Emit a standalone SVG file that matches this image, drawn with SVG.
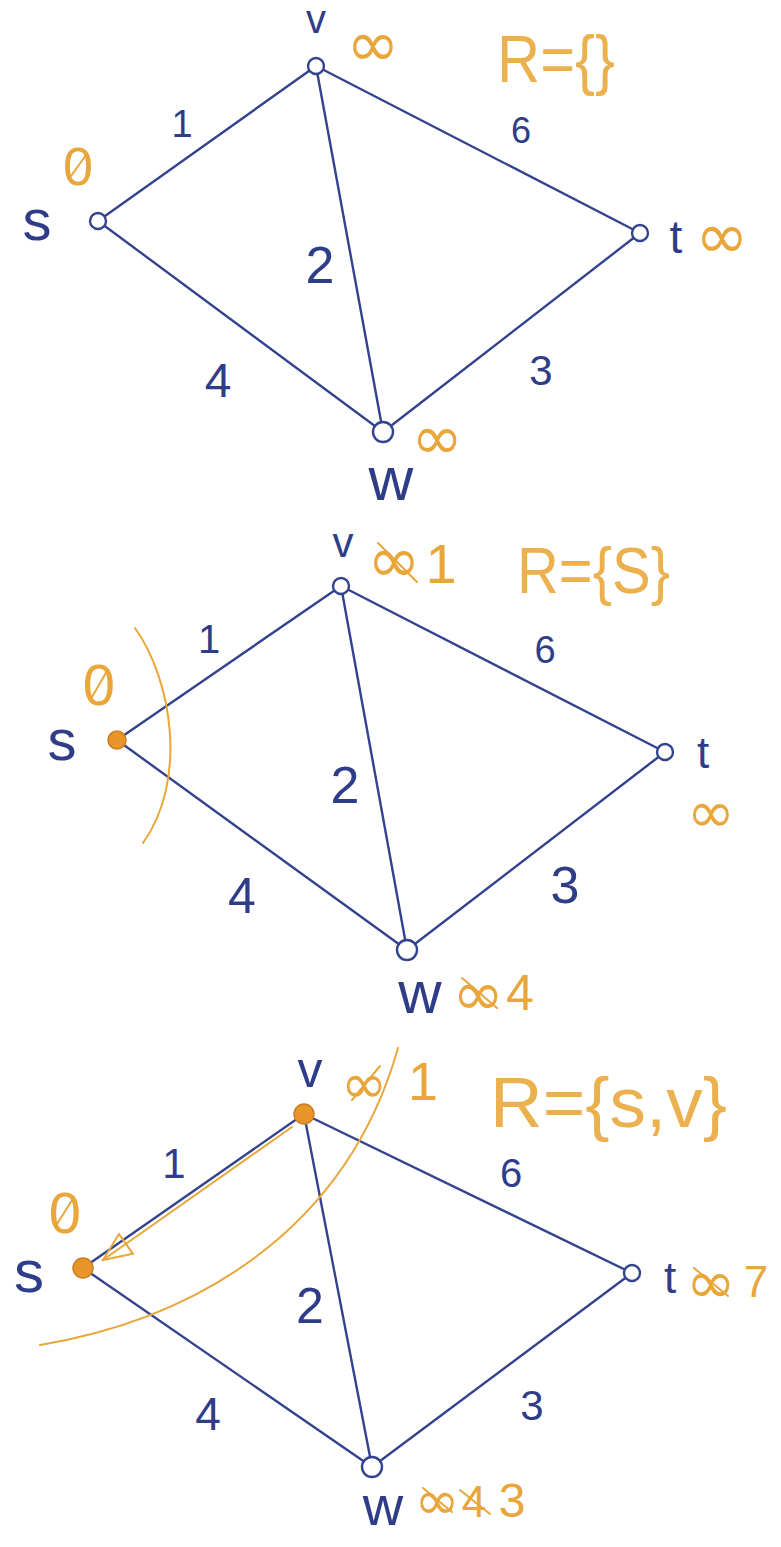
<svg xmlns="http://www.w3.org/2000/svg" width="781" height="1547" viewBox="0 0 781 1547">
<style>
.e{stroke:#34438d;stroke-width:2.4;fill:none;stroke-linecap:round}
.n{fill:#fff;stroke:#34438d;stroke-width:2.4}
.nf{fill:#e8952a;stroke:#c9801f;stroke-width:1.5}
.b{fill:#2f3d88;font-family:"Liberation Sans",Arial,sans-serif;text-anchor:middle}
.o{fill:#e9a63a;font-family:"Liberation Sans",Arial,sans-serif;text-anchor:middle}
.i{fill:#e9a63a;font-family:"DejaVu Sans",sans-serif;text-anchor:middle;dominant-baseline:central}
.r{fill:#ebb14f;font-family:"Liberation Sans",Arial,sans-serif}
.os{stroke:#e9a63a;stroke-width:2;fill:none;stroke-linecap:round}
</style>
<defs>
<marker id="arr" viewBox="0 0 32 32" refX="30" refY="16" markerWidth="32" markerHeight="32" markerUnits="userSpaceOnUse" orient="auto">
<path d="M2,4 L30,16 L2,28 Z" fill="none" stroke="#e9a63a" stroke-width="2"/>
</marker>
</defs>
<rect width="781" height="1547" fill="#fff"/>

<g id="connectors">
<!-- panel 1 -->
<line class="e" x1="98" y1="221" x2="316" y2="66"/>
<line class="e" x1="98" y1="221" x2="383" y2="432"/>
<line class="e" x1="316" y1="66" x2="383" y2="432"/>
<line class="e" x1="316" y1="66" x2="640" y2="233"/>
<line class="e" x1="383" y1="432" x2="640" y2="233"/>
<text class="b" x="182" y="137" font-size="38">1</text>
<text class="b" x="521" y="143" font-size="36">6</text>
<text class="b" x="320" y="283" font-size="52">2</text>
<text class="b" x="218" y="397" font-size="48">4</text>
<text class="b" x="541" y="385" font-size="42">3</text>
<!-- panel 2 -->
<line class="e" x1="117" y1="740" x2="341" y2="586"/>
<line class="e" x1="117" y1="740" x2="407" y2="950"/>
<line class="e" x1="341" y1="586" x2="407" y2="950"/>
<line class="e" x1="341" y1="586" x2="665" y2="752"/>
<line class="e" x1="407" y1="950" x2="665" y2="752"/>
<text class="b" x="209" y="653" font-size="40">1</text>
<text class="b" x="545" y="663" font-size="38">6</text>
<text class="b" x="345" y="803" font-size="52">2</text>
<text class="b" x="242" y="913" font-size="50">4</text>
<text class="b" x="565" y="903" font-size="52">3</text>
<!-- panel 3 -->
<line class="e" x1="83" y1="1268" x2="304" y2="1114"/>
<line class="e" x1="83" y1="1268" x2="372" y2="1467"/>
<line class="e" x1="304" y1="1114" x2="372" y2="1467"/>
<line class="e" x1="304" y1="1114" x2="632" y2="1273"/>
<line class="e" x1="372" y1="1467" x2="632" y2="1273"/>
<text class="b" x="174" y="1178" font-size="42">1</text>
<text class="b" x="511" y="1187" font-size="40">6</text>
<text class="b" x="310" y="1323" font-size="50">2</text>
<text class="b" x="208" y="1430" font-size="46">4</text>
<text class="b" x="532" y="1420" font-size="42">3</text>
<line class="os" x1="292" y1="1127" x2="103" y2="1260" marker-end="url(#arr)"/>
</g>

<g id="cuts">
<path class="os" d="M135,628 C172,680 188,780 143,843"/>
<path class="os" d="M40,1345 C190,1320 345,1235 398,1048"/>
</g>

<!-- panel 1 nodes -->
<g id="p1-s">
<circle class="n" cx="98" cy="221" r="8"/>
<text class="b" x="37" y="240" font-size="58">s</text>
<text class="o" x="78" y="185" font-size="54">0</text>
<line class="os" x1="71" y1="176" x2="86" y2="155"/>
</g>
<g id="p1-v">
<circle class="n" cx="316" cy="66" r="8"/>
<text class="b" x="316" y="33" font-size="40">v</text>
<text class="i" x="373" y="44" font-size="64">∞</text>
</g>
<g id="p1-t">
<circle class="n" cx="640" cy="233" r="8"/>
<text class="b" x="676" y="253" font-size="46">t</text>
<text class="i" x="722" y="236" font-size="64">∞</text>
</g>
<g id="p1-w">
<circle class="n" cx="383" cy="432" r="10"/>
<text class="i" x="437" y="437" font-size="62">∞</text>
<text class="b" x="391" y="500" font-size="62">w</text>
</g>
<g id="p1-R">
<text class="r" x="497" y="82" font-size="66" textLength="118" lengthAdjust="spacingAndGlyphs">R={}</text>
</g>

<!-- panel 2 nodes -->
<g id="p2-s">
<circle class="nf" cx="117" cy="740" r="9"/>
<text class="b" x="62" y="760" font-size="58">s</text>
<text class="o" x="99" y="705" font-size="58">0</text>
<line class="os" x1="92" y1="697" x2="107" y2="671"/>
</g>
<g id="p2-v">
<circle class="n" cx="341" cy="586" r="8"/>
<text class="b" x="343" y="557" font-size="42">v</text>
<text class="i" x="394" y="560" font-size="64">∞</text>
<line class="os" x1="378" y1="543" x2="417" y2="582"/>
<text class="o" x="441" y="583" font-size="56">1</text>
</g>
<g id="p2-t">
<circle class="n" cx="665" cy="752" r="8"/>
<text class="b" x="703" y="768" font-size="44">t</text>
<text class="i" x="711" y="812" font-size="58">∞</text>
</g>
<g id="p2-w">
<circle class="n" cx="407" cy="950" r="10"/>
<text class="b" x="420" y="1013" font-size="60">w</text>
<text class="i" x="478" y="993" font-size="62">∞</text>
<line class="os" x1="462" y1="978" x2="497" y2="1008"/>
<text class="o" x="520" y="1010" font-size="50">4</text>
</g>
<g id="p2-R">
<text class="r" x="517" y="593" font-size="64" textLength="153" lengthAdjust="spacingAndGlyphs">R={S}</text>
</g>

<!-- panel 3 nodes -->
<g id="p3-s">
<circle class="nf" cx="83" cy="1268" r="10"/>
<text class="b" x="29" y="1292" font-size="60">s</text>
<text class="o" x="65" y="1233" font-size="58">0</text>
<line class="os" x1="57" y1="1224" x2="74" y2="1197"/>
</g>
<g id="p3-v">
<circle class="nf" cx="304" cy="1114" r="10"/>
<text class="b" x="310" y="1087" font-size="50">v</text>
<text class="i" x="364" y="1083" font-size="56">∞</text>
<line class="os" x1="352" y1="1100" x2="380" y2="1066"/>
<text class="o" x="423" y="1100" font-size="54">1</text>
</g>
<g id="p3-t">
<circle class="n" cx="632" cy="1273" r="8"/>
<text class="b" x="670" y="1293" font-size="44">t</text>
<text class="i" x="711" y="1282" font-size="60">∞</text>
<line class="os" x1="694" y1="1268" x2="728" y2="1296"/>
<text class="o" x="756" y="1297" font-size="44">7</text>
</g>
<g id="p3-w">
<circle class="n" cx="372" cy="1467" r="10"/>
<text class="b" x="383" y="1525" font-size="56">w</text>
<text class="i" x="437" y="1500" font-size="54">∞</text>
<line class="os" x1="423" y1="1488" x2="452" y2="1512"/>
<text class="o" x="474" y="1517" font-size="44">4</text>
<line class="os" x1="460" y1="1490" x2="490" y2="1514"/>
<text class="o" x="512" y="1517" font-size="48">3</text>
</g>
<g id="p3-R">
<text class="r" x="490" y="1127" font-size="70" textLength="237" lengthAdjust="spacingAndGlyphs">R={s,v}</text>
</g>
</svg>
